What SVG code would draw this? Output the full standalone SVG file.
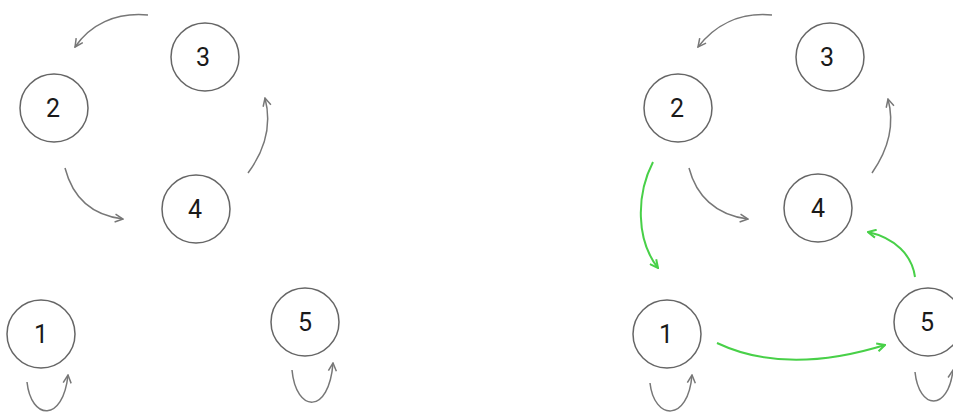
<svg xmlns="http://www.w3.org/2000/svg" width="953" height="412" viewBox="0 0 953 412">
<style>
.node circle{fill:#fff;stroke:#666;stroke-width:1.5}
.node text{font-family:Roboto,"Liberation Sans",sans-serif;font-size:25px;fill:#1a1a1a;text-anchor:middle}
.e{fill:none;stroke:#777;stroke-width:1.5;marker-end:url(#ag)}
.g{fill:none;stroke:#48d048;stroke-width:2;marker-end:url(#agr)}
</style>
<defs>
<marker id="ag" viewBox="0 0 10 10" refX="9" refY="5" markerWidth="10" markerHeight="10" markerUnits="userSpaceOnUse" orient="auto">
<path d="M1,1 L9,5 L1,9" fill="none" stroke="#777" stroke-width="1.5"/>
</marker>
<marker id="agr" viewBox="0 0 10 10" refX="9" refY="5" markerWidth="10" markerHeight="10" markerUnits="userSpaceOnUse" orient="auto">
<path d="M1,1 L9,5 L1,9" fill="none" stroke="#48d048" stroke-width="2"/>
</marker>
</defs>
<rect width="953" height="412" fill="#fff"/>
<g id="connectors">
<path class="e" d="M148,15 C115,12 90,25 75,47"/>
<path class="e" d="M65,168 C72,195 90,215 123,219"/>
<path class="e" d="M248,173 C265,150 272,125 265,98"/>
<path class="e" d="M27,382 C31,420 63,423 68,375"/>
<path class="e" d="M292,370 C296,413 329,415 333,363"/>
<path class="e" d="M772,15 C740,12 715,25 698,47"/>
<path class="e" d="M689,168 C696,195 715,215 748,219"/>
<path class="e" d="M872,173 C888,150 895,125 888,99"/>
<path class="e" d="M650,383 C654,420 688,423 692,375"/>
<path class="e" d="M915,372 C919,410 948,412 953,370"/>
<path class="g" d="M653,162 C636,195 636,240 658,268"/>
<path class="g" d="M717,343 C770,368 830,362 885,345"/>
<path class="g" d="M915,277 C912,255 895,238 868,232"/>
</g>
<g id="L3" class="node"><circle cx="205" cy="57" r="34"/><text x="203" y="66">3</text></g>
<g id="L2" class="node"><circle cx="54" cy="108" r="34"/><text x="53" y="117">2</text></g>
<g id="L4" class="node"><circle cx="196" cy="209" r="34"/><text x="195" y="218">4</text></g>
<g id="L1" class="node"><circle cx="41" cy="334" r="34"/><text x="41" y="343">1</text></g>
<g id="L5" class="node"><circle cx="305" cy="322" r="34"/><text x="305" y="331">5</text></g>
<g id="R3" class="node"><circle cx="830" cy="57" r="34"/><text x="827" y="66">3</text></g>
<g id="R2" class="node"><circle cx="678" cy="108" r="34"/><text x="677" y="117">2</text></g>
<g id="R4" class="node"><circle cx="818" cy="208" r="34"/><text x="818" y="217">4</text></g>
<g id="R1" class="node"><circle cx="667" cy="334" r="34"/><text x="666" y="343">1</text></g>
<g id="R5" class="node"><circle cx="928" cy="322" r="34"/><text x="927" y="331">5</text></g>
</svg>
